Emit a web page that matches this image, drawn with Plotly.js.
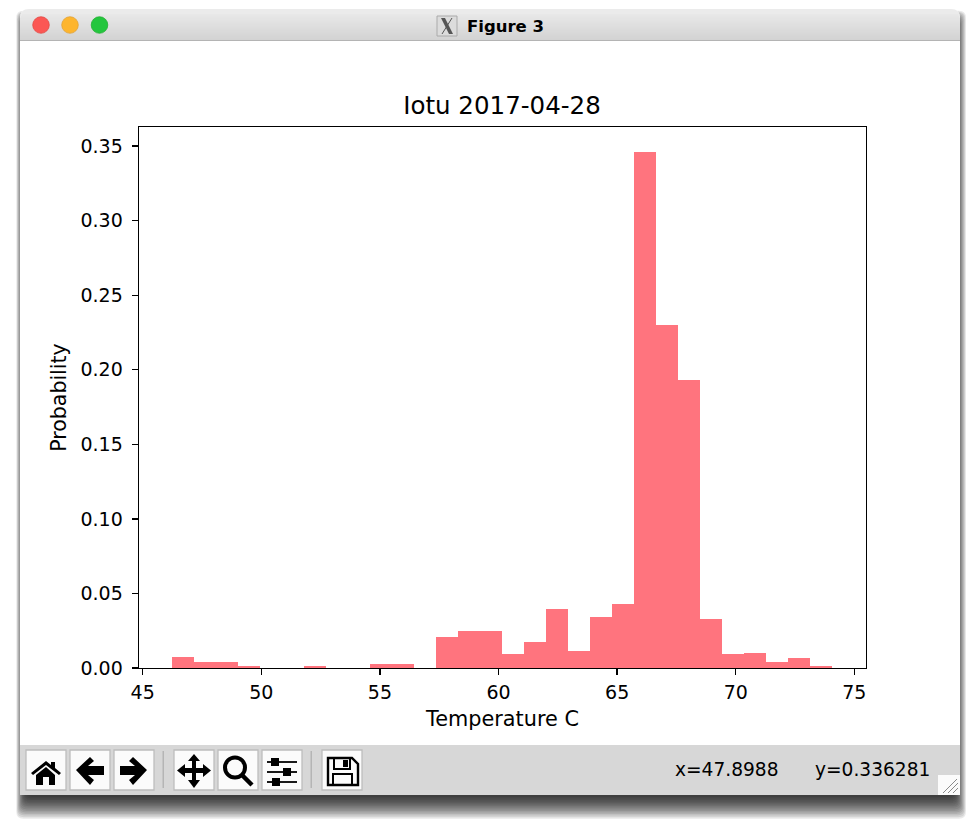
<!DOCTYPE html>
<html>
<head>
<meta charset="utf-8">
<script src="https://cdn.plot.ly/plotly-3.0.1.min.js"></script>
<style>html,body{margin:0;padding:0;background:#fff;overflow:hidden}#chart{width:980px;height:827px}</style>
</head>
<body>
<div id="chart"></div>
<script>
// ---- chart data ----
const binLefts = [46.23,47.16,48.09,49.01,49.94,50.87,51.80,52.72,53.65,54.58,55.51,56.43,57.36,58.29,59.22,60.14,61.07,62.00,62.93,63.85,64.78,65.71,66.64,67.56,68.49,69.42,70.35,71.27,72.20,73.13];
const probabilities = [0.0074,0.0042,0.0042,0.0013,0,0,0.0013,0,0,0.0027,0.0027,0,0.021,0.025,0.025,0.0094,0.0172,0.0398,0.0114,0.034,0.0429,0.346,0.230,0.193,0.0329,0.0094,0.0103,0.0042,0.0065,0.0013];
const binWidth = 0.9275;
const xTicks = [45,50,55,60,65,70,75];
const yTicks = [0,0.05,0.10,0.15,0.20,0.25,0.30,0.35];
const yTickLabels = ['0.00','0.05','0.10','0.15','0.20','0.25','0.30','0.35'];
const chartTitle = 'Iotu 2017-04-28';
const xLabel = 'Temperature C';
const yLabel = 'Probability';
const windowTitle = 'Figure 3';
const statusX = 'x=47.8988';
const statusY = 'y=0.336281';

// ---- frame geometry ----
const L=139,R=866,T=127,B=668;
const px=x=>(x-L)/(R-L), py=y=>(B-y)/(B-T);
const conv=d=>d.replace(/(-?[\d.]+)[ ,](-?[\d.]+)/g,(m,a,b)=>px(+a)+','+py(+b));
const P=(d,o)=>Object.assign({type:'path',xref:'paper',yref:'paper',path:conv(d),layer:'below',line:{width:0},fillcolor:'#000'},o||{});
const rect=(x0,y0,x1,y1,c,o)=>Object.assign({type:'rect',xref:'paper',yref:'paper',x0:px(x0),x1:px(x1),y0:py(y1),y1:py(y0),fillcolor:c,line:{width:0},layer:'below'},o||{});
const circ=(cx,cy,r,c,o)=>Object.assign({type:'circle',xref:'paper',yref:'paper',x0:px(cx-r),x1:px(cx+r),y0:py(cy+r),y1:py(cy-r),fillcolor:c,line:{width:0},layer:'below'},o||{});
const seg=(x0,y0,x1,y1,c,w)=>({type:'line',xref:'paper',yref:'paper',x0:px(x0),x1:px(x1),y0:py(y0),y1:py(y1),line:{color:c,width:w},layer:'below'});
const rr=(x0,y0,x1,y1,r)=>`M ${x0} ${y0+r} Q ${x0} ${y0} ${x0+r} ${y0} L ${x1-r} ${y0} Q ${x1} ${y0} ${x1} ${y0+r} L ${x1} ${y1} L ${x0} ${y1} Z`;
const rrAll=(x0,y0,x1,y1,r)=>`M ${x0} ${y0+r} Q ${x0} ${y0} ${x0+r} ${y0} L ${x1-r} ${y0} Q ${x1} ${y0} ${x1} ${y0+r} L ${x1} ${y1-r} Q ${x1} ${y1} ${x1-r} ${y1} L ${x0+r} ${y1} Q ${x0} ${y1} ${x0} ${y1-r} Z`;

const shapes=[];
// window shadow: soft, offset downward
for(let i=0;i<15;i++){
  shapes.push(P(rrAll(25-i*0.62,24-i*0.95,955+i*0.78,797+i*1.55,7),{fillcolor:'#000',opacity:0.085}));
}
// window body
shapes.push(P(rr(20,9,960,795,9),{fillcolor:'#fff'}));
// title bar gradient
const titleTop=9,titleH=31;
shapes.push(P(rr(20,titleTop,960,titleTop+10,9),{fillcolor:'rgb(235,235,235)'}));
for(let i=5;i<titleH;i++){
  const g=Math.round(236-(i/titleH)*26), c=`rgb(${g},${g},${g})`;
  shapes.push(rect(i<9?20+(9-i)*0.5:20,titleTop+i,i<9?960-(9-i)*0.5:960,titleTop+i+1.2,c));
}
shapes.push(rect(20,40,960,41,'#b4b4b4'));
// traffic lights
shapes.push(circ(41,25,8.3,'#fb5754',{line:{color:'#e0443e',width:0.7}}));
shapes.push(circ(70,25,8.3,'#fdb52e',{line:{color:'#de9f34',width:0.7}}));
shapes.push(circ(99.5,25,8.3,'#24c63e',{line:{color:'#1aab29',width:0.7}}));
// X app icon
shapes.push(rect(437,16,457,36,'#dcdcdc',{line:{color:'#aaaaaa',width:1}}));
shapes.push(P('M 441 18 L 445 18 L 453 34 L 449 34 Z',{fillcolor:'#555'}));
shapes.push(seg(452,18,442,34,'#555',1));
// toolbar
shapes.push(rect(20,745,960,795,'#d7d7d7'));
[[26,66],[70,110],[114,154],[174,214],[218,258],[262,302],[322,362]].forEach(b=>{
  shapes.push(rect(b[0],750,b[1],790,'#fbfbfb',{line:{color:'#bdbdbd',width:1.3}}));
});
shapes.push(rect(162.5,751,164,788,'#b5b5b5'));
shapes.push(rect(310.5,751,312,788,'#b5b5b5'));
// home icon
shapes.push(P('M 31 773 L 46 761 L 51 765 L 51 762 L 55 762 L 55 768 L 61 773 L 59 775 L 46 765 L 33 775 Z'));
shapes.push(P('M 36 775 L 46 767 L 55 775 L 55 785 L 49 785 L 49 777 L 43 777 L 43 785 L 36 785 Z'));
// back arrow
shapes.push(P('M 76 770 L 90 757 L 94 761 L 88 766 L 104 766 L 104 775 L 88 775 L 94 780 L 90 785 Z'));
// forward arrow
shapes.push(P('M 147 770 L 133 757 L 129 761 L 135 766 L 120 766 L 120 775 L 135 775 L 129 780 L 133 785 Z'));
// move icon
shapes.push(P('M 194 754 L 200 761 L 196 761 L 196 768 L 203 768 L 203 764 L 211 770.5 L 203 777 L 203 773 L 196 773 L 196 780 L 200 780 L 194 788 L 188 780 L 192 780 L 192 773 L 185 773 L 185 777 L 177 770.5 L 185 764 L 185 768 L 192 768 L 192 761 L 188 761 Z'));
// zoom icon
shapes.push(circ(235,767.5,10,'rgba(0,0,0,0)',{line:{color:'#000',width:4}}));
shapes.push(seg(242,775,252,785,'#000',4.5));
// sliders icon
[[762,275],[772,287],[782,276]].forEach(s=>{
  shapes.push(seg(267,s[0],297,s[0],'#000',1.8));
  shapes.push(rect(s[1]-4,s[0]-4,s[1]+4,s[0]+4,'#000'));
});
// save icon
shapes.push(P('M 328 758 L 352 758 L 358 764 L 358 785 L 328 785 Z',{fillcolor:'rgba(0,0,0,0)',line:{color:'#000',width:2.4}}));
shapes.push(P('M 334 758 L 350 758 L 350 769 L 334 769 Z',{fillcolor:'rgba(0,0,0,0)',line:{color:'#000',width:2}}));
shapes.push(rect(343,760,348,767,'#000'));
shapes.push(P('M 333 785 L 333 774 L 352 774 L 352 785',{fillcolor:'rgba(0,0,0,0)',line:{color:'#000',width:2}}));
// resize grip
shapes.push(rect(938,775,960,795,'#fbfbfb'));
[[943,793,957,779],[948,793,958,783],[953,793,958,788]].forEach(s=>shapes.push(seg(s[0],s[1],s[2],s[3],'#8a8a8a',1)));

const font='"DejaVu Sans", sans-serif';
const note=(x,y,text,size,anchor,extra)=>Object.assign({xref:'paper',yref:'paper',x:px(x),y:py(y),text,showarrow:false,xanchor:anchor,yanchor:'middle',font:{family:font,size,color:'#000'}},extra||{});

const trace={type:'bar',x:binLefts,y:probabilities,width:binWidth,offset:0,marker:{color:'#ff747e',line:{width:0}},hoverinfo:'skip'};
const layout={
  width:980,height:827,
  margin:{l:L,r:980-R,t:T,b:827-B,pad:0},
  paper_bgcolor:'#fff',plot_bgcolor:'#fff',
  showlegend:false,bargap:0,
  font:{family:font,color:'#000',size:19},
  title:{text:chartTitle,font:{family:font,size:24.5,color:'#000'},x:502/980,xanchor:'center',y:1-105/827,yanchor:'middle',yref:'container'},
  xaxis:{range:[44.844,75.49],tickmode:'array',tickvals:xTicks,ticktext:xTicks.map(String),ticks:'outside',ticklen:6,tickwidth:1.4,tickcolor:'#000',
    showline:true,linecolor:'#000',linewidth:1.4,mirror:true,showgrid:false,zeroline:false,tickfont:{family:font,size:19,color:'#000'},ticklabelstandoff:1,
    title:{text:xLabel,font:{family:font,size:20.8,color:'#000'},standoff:9}},
  yaxis:{range:[0,0.3628],tickmode:'array',tickvals:yTicks,ticktext:yTickLabels,ticks:'outside',ticklen:6,tickwidth:1.4,tickcolor:'#000',
    showline:true,linecolor:'#000',linewidth:1.4,mirror:true,showgrid:false,zeroline:false,tickfont:{family:font,size:19,color:'#000'},ticklabelstandoff:5,
    title:{text:yLabel,font:{family:font,size:20.5,color:'#000'},standoff:8}},
  shapes,
  annotations:[
    note(465,26,'<b>'+windowTitle+'</b>',16.5,'left'),
    note(673,769,statusX,18.6,'left'),
    note(813,769,statusY,18.6,'left')
  ]
};
Plotly.newPlot('chart',[trace],layout,{staticPlot:true,displayModeBar:false});
</script>
</body>
</html>
